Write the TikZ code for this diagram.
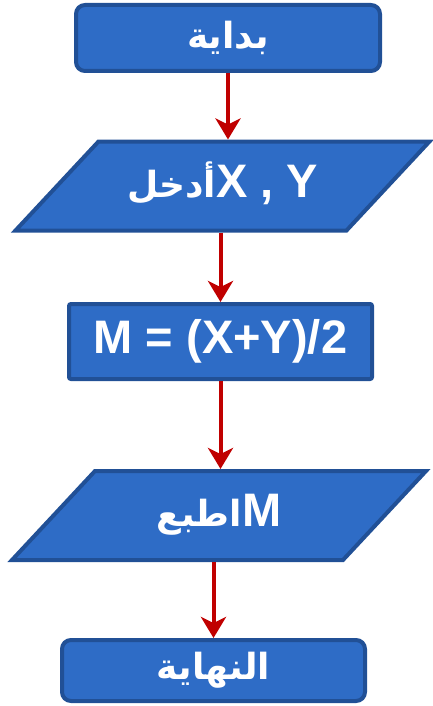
\documentclass[tikz,border=0pt]{standalone}
\usepackage{fontspec}
\setmainfont{Liberation Sans}
\newfontfamily\arabicfont[Script=Arabic]{DejaVu Sans}
\TeXXeTstate=1
\usetikzlibrary{arrows.meta,shapes.geometric}
\definecolor{boxblue}{RGB}{46,108,198}
\definecolor{boxedge}{RGB}{33,80,150}
\definecolor{flowred}{RGB}{192,0,0}
\newcommand\artext[1]{{\arabicfont\fontsize{36}{42}\selectfont\beginR #1\endR}}

\begin{document}
\begin{tikzpicture}[x=1pt,y=-1pt,>={Stealth[length=21pt,width=25pt,inset=6pt]},
  blockbase/.style={draw=boxedge,fill=boxblue,line width=4pt,text=white,
    font=\bfseries\fontsize{47}{52}\selectfont},
  terminal/.style={blockbase,rounded corners=9pt,minimum width=304pt},
  process/.style={blockbase,rounded corners=2pt,minimum width=303pt,minimum height=75pt},
  io/.style={blockbase,trapezium,trapezium left angle=47,trapezium right angle=133,
    trapezium stretches body,minimum width=414pt,text height=32pt,text depth=10pt,
    inner ysep=23.5pt,inner xsep=0pt},
  flow/.style={->,draw=flowred,line width=4pt}]
  \useasboundingbox (0,0) rectangle (433,706);
  \node[terminal,minimum height=66pt] (start) at (228,38) {\artext{بداية}};
  \node[io] (input) at (222.5,186) {\artext{أدخل}X , Y};
  \node[process] (calc) at (220.5,341.5) {M = (X+Y)/2};
  \node[io] (output) at (219,515.5) {\artext{اطبع}M};
  \node[terminal,minimum height=61pt,minimum width=303pt] (stop) at (213.5,670.5) {\artext{النهاية}};
  \draw[flow] (start.south) -- (start.south |- input.north);
  \draw[flow] (calc.north |- input.south) -- (calc.north);
  \draw[flow] (calc.south) -- (calc.south |- output.north);
  \draw[flow] (stop.north |- output.south) -- (stop.north);
\end{tikzpicture}
\end{document}
